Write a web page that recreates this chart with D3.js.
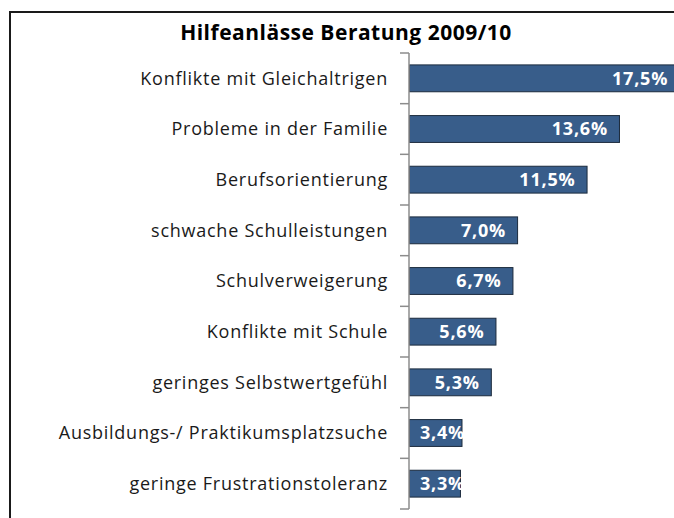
<!DOCTYPE html>
<html>
<head>
<meta charset="utf-8">
<script src="https://cdn.jsdelivr.net/npm/d3@7"></script>
<style>
  body { margin: 0; background: #fff; }
  svg { display: block; font-family: "Open Sans", Lato, sans-serif; }
</style>
</head>
<body>
<div id="main"></div>
<script>
var categories = ["Konflikte mit Gleichaltrigen", "Probleme in der Familie", "Berufsorientierung", "schwache Schulleistungen", "Schulverweigerung", "Konflikte mit Schule", "geringes Selbstwertgefühl", "Ausbildungs-/ Praktikumsplatzsuche", "geringe Frustrationstoleranz"];
var values = [17.5, 13.6, 11.5, 7.0, 6.7, 5.6, 5.3, 3.4, 3.3];
var title = "Hilfeanlässe Beratung 2009/10";

var width = 674, height = 518;
var x0 = 409;

var canvas = d3.select("#main").append("svg")
  .attr("width", width)
  .attr("height", height);//create canvas

canvas.append("rect")
  .attr("x", 10).attr("y", 12)
  .attr("width", 700).attr("height", 600)
  .attr("fill", "#fff")
  .attr("stroke", "#1a1a1a")
  .attr("stroke-width", 2);//chart frame, cut off right and bottom

canvas.append("text")
  .attr("x", 346).attr("y", 40)
  .attr("text-anchor", "middle")
  .style("font-size", "21px")
  .style("font-weight", "bold")
  .style("letter-spacing", "0.5px")
  .text(title);//title

var xScale = d3.scaleLinear()
  .domain([0, 1])
  .range([x0, x0 + 15.44]);//1 % = 15.44px

var yScale = d3.scaleBand()
  .domain(categories)
  .range([53, 509])
  .paddingInner(0.47)
  .paddingOuter(0.235);

var data = categories.map(function(c, i) { return { name: c, value: values[i] }; });

canvas.append("g").selectAll("rect").data(data).enter().append("rect")
  .attr("x", xScale(0) + 0.5)
  .attr("y", function(d) { return yScale(d.name); })
  .attr("width", function(d) { return xScale(d.value) - xScale(0); })
  .attr("height", yScale.bandwidth())
  .attr("fill", "#385d8a")
  .attr("stroke", "#1c2b3d")
  .attr("stroke-width", 1);//draw bars

// category axis: gray line with ticks between categories
var step = yScale.step();
var tickYs = d3.range(categories.length + 1).map(function(i) { return 53 + i * step; });
canvas.append("line")
  .attr("x1", x0).attr("x2", x0)
  .attr("y1", 53).attr("y2", 509)
  .attr("stroke", "#8c8c8c").attr("stroke-width", 1.5);
canvas.append("g").selectAll("line").data(tickYs).enter().append("line")
  .attr("x1", x0 - 9).attr("x2", x0)
  .attr("y1", function(d) { return d; }).attr("y2", function(d) { return d; })
  .attr("stroke", "#8c8c8c").attr("stroke-width", 1.5);

canvas.append("g").selectAll("text").data(data).enter().append("text")
  .attr("x", 388)
  .attr("y", function(d) { return yScale(d.name) + yScale.bandwidth() / 2; })
  .attr("dy", "0.36em")
  .attr("text-anchor", "end")
  .style("font-size", "18px")
  .style("letter-spacing", "0.75px")
  .style("fill", "#1a1a1a")
  .text(function(d) { return d.name; });//category labels

canvas.append("g").selectAll("text").data(data).enter().append("text")
  .attr("y", function(d) { return yScale(d.name) + yScale.bandwidth() / 2; })
  .attr("dy", "0.36em")
  .attr("text-anchor", "end")
  .style("font-size", "18px")
  .style("font-weight", "bold")
  .style("letter-spacing", "0.8px")
  .style("fill", "#fff")
  .text(function(d) { return d3.format(".1f")(d.value).replace(".", ",") + "%"; })
  .attr("x", function(d) {
    var w = this.getComputedTextLength();
    return Math.max(xScale(d.value) - 11, xScale(0) + 11 + w);
  });//value labels
</script>
</body>
</html>
